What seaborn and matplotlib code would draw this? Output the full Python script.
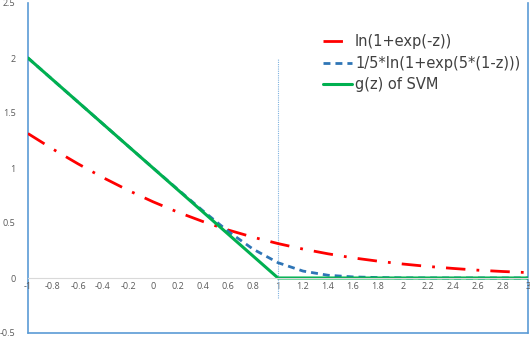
import matplotlib
matplotlib.use("Agg")
import matplotlib.pyplot as plt
import seaborn as sns

# data (x step 0.2)
z = [-1.0, -0.8, -0.6, -0.4, -0.2, 0.0, 0.2, 0.4, 0.6, 0.8, 1.0,
     1.2, 1.4, 1.6, 1.8, 2.0, 2.2, 2.4, 2.6, 2.8, 3.0]
logistic_loss = [1.313, 1.171, 1.038, 0.913, 0.798, 0.693, 0.598, 0.513, 0.437, 0.371, 0.313,
                 0.263, 0.220, 0.183, 0.153, 0.127, 0.105, 0.087, 0.071, 0.059, 0.049]
smooth_hinge = [2.000, 1.800, 1.600, 1.400, 1.200, 1.001, 0.804, 0.610, 0.425, 0.263, 0.139,
                0.063, 0.025, 0.010, 0.004, 0.001, 0.0005, 0.0002, 0.0001, 0.0, 0.0]
svm_hinge = [2.0, 1.8, 1.6, 1.4, 1.2, 1.0, 0.8, 0.6, 0.4, 0.2, 0.0,
             0.0, 0.0, 0.0, 0.0, 0.0, 0.0, 0.0, 0.0, 0.0, 0.0]
marker_x = [1.0, 1.0]
marker_y = [-0.18, 2.0]

labels = ["ln(1+exp(-z))", "1/5*ln(1+exp(5*(1-z)))", "g(z) of SVM"]
x_ticks = [-1, -0.8, -0.6, -0.4, -0.2, 0, 0.2, 0.4, 0.6, 0.8, 1,
           1.2, 1.4, 1.6, 1.8, 2, 2.2, 2.4, 2.6, 2.8, 3]
y_ticks = [-0.5, 0, 0.5, 1, 1.5, 2, 2.5]

sns.set_style("white")
plt.rcParams["font.family"] = ["Open Sans", "DejaVu Sans"]

fig = plt.figure(figsize=(5.3, 3.38), dpi=100)
ax = fig.add_axes([28 / 530, 5 / 338, 500 / 530, 330 / 338])

axis_blue = "#5B9BD5"

# thin dotted marker at z=1
sns.lineplot(x=marker_x, y=marker_y, ax=ax, estimator=None, sort=False,
             color="#7FB2E0", lw=0.8, linestyle=(0, (1, 1)), legend=False)

sns.lineplot(x=z, y=logistic_loss, ax=ax, color="#FF0000", lw=2,
             linestyle=(0, (7, 4, 1, 4)), label=labels[0])
sns.lineplot(x=z, y=smooth_hinge, ax=ax, color="#2E75B6", lw=2,
             linestyle=(0, (2.5, 1.8)), label=labels[1])
sns.lineplot(x=z, y=svm_hinge, ax=ax, color="#00B050", lw=2.2,
             linestyle="-", label=labels[2])

ax.set_xlim(-1, 3)
ax.set_ylim(-0.5, 2.5)
ax.set_xticks(x_ticks)
ax.set_xticklabels([f"{t:g}" for t in x_ticks])
ax.set_yticks(y_ticks)
ax.set_yticklabels([f"{t:g}" for t in y_ticks])
ax.tick_params(axis="both", length=0, labelsize=6.5, labelcolor="#595959")
ax.tick_params(axis="x", pad=3)
ax.tick_params(axis="y", pad=9)
ax.set_xlabel("")
ax.set_ylabel("")

# x axis sits at y=0, box border in blue
ax.spines["bottom"].set_position(("data", 0))
ax.spines["bottom"].set_color("#D9D9D9")
ax.spines["bottom"].set_linewidth(0.8)
ax.spines["top"].set_visible(False)
for side in ("left", "right"):
    ax.spines[side].set_color(axis_blue)
    ax.spines[side].set_linewidth(1.2)
    ax.spines[side].set_zorder(0.5)
ax.axhline(-0.5, color=axis_blue, lw=1.2, clip_on=False)

leg = ax.legend(loc="upper left", bbox_to_anchor=(0.59, 0.905), frameon=False,
                prop={"family": "DejaVu Sans", "size": 10.5},
                handlelength=2.0, handletextpad=0.2,
                labelspacing=0.45, borderaxespad=0, borderpad=0)
for t in leg.get_texts():
    t.set_color("#404040")

fig.savefig("out.png", dpi=100)
